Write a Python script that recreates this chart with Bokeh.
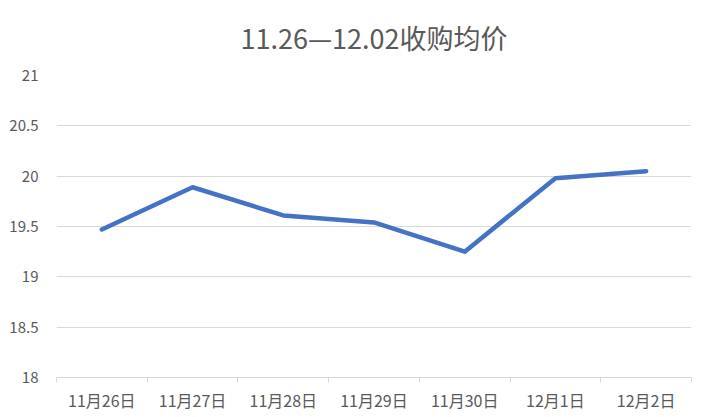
from bokeh.plotting import figure
from bokeh.models import FixedTicker, Range1d, ColumnDataSource
from bokeh.embed import file_html
from bokeh.resources import INLINE

categories = ["11月26日", "11月27日", "11月28日", "11月29日", "11月30日", "12月1日", "12月2日"]
prices = [19.47, 19.89, 19.61, 19.54, 19.25, 19.98, 20.05]
y_ticks = [18, 18.5, 19, 19.5, 20, 20.5, 21]
y_tick_labels = ["18", "18.5", "19", "19.5", "20", "20.5", "21"]
title_text = "11.26—12.02收购均价"

xs = list(range(len(categories)))
src = ColumnDataSource(dict(x=xs, y=prices))

FONT = "Noto Sans CJK SC"
GREY = "#595959"
GRID = "#d9d9d9"

p = figure(width=696, height=414, output_backend="svg", toolbar_location=None,
           x_range=Range1d(-0.5, len(categories) - 0.5), y_range=Range1d(18, 21),
           title=title_text)
p.min_border_left = 56
p.min_border_right = 5
p.min_border_top = 74
p.min_border_bottom = 30
p.outline_line_color = None
p.background_fill_color = "white"
p.border_fill_color = "white"

p.title.align = "center"
p.title.vertical_align = "top"
p.title.text_font = FONT
p.title.text_font_size = "27px"
p.title.text_font_style = "normal"
p.title.text_color = GREY
p.title.standoff = 34

p.line("x", "y", source=src, line_color="#4472C4", line_width=4.5, line_join="round", line_cap="round")

xa = p.xaxis[0]
xa.ticker = FixedTicker(ticks=xs, minor_ticks=[i - 0.5 for i in range(len(categories) + 1)])
xa.major_label_overrides = {i: c for i, c in enumerate(categories)}
xa.major_tick_line_color = None
xa.major_tick_out = 0
xa.major_tick_in = 0
xa.minor_tick_line_color = GRID
xa.minor_tick_out = 5
xa.minor_tick_in = 0
xa.axis_line_color = GRID
xa.major_label_text_font = FONT
xa.major_label_text_font_size = "16px"
xa.major_label_text_color = GREY
xa.major_label_standoff = 5

ya = p.yaxis[0]
ya.ticker = FixedTicker(ticks=y_ticks)
ya.major_label_overrides = {t: l for t, l in zip(y_ticks, y_tick_labels)}
ya.axis_line_color = None
ya.major_tick_line_color = None
ya.minor_tick_line_color = None
ya.major_tick_out = 0
ya.major_label_text_font = FONT
ya.major_label_text_font_size = "15px"
ya.major_label_text_color = GREY
ya.major_label_standoff = 18

p.xgrid.grid_line_color = None
p.ygrid.grid_line_color = GRID
p.ygrid.grid_line_width = 1

open("out.html", "w").write(file_html(p, INLINE))
